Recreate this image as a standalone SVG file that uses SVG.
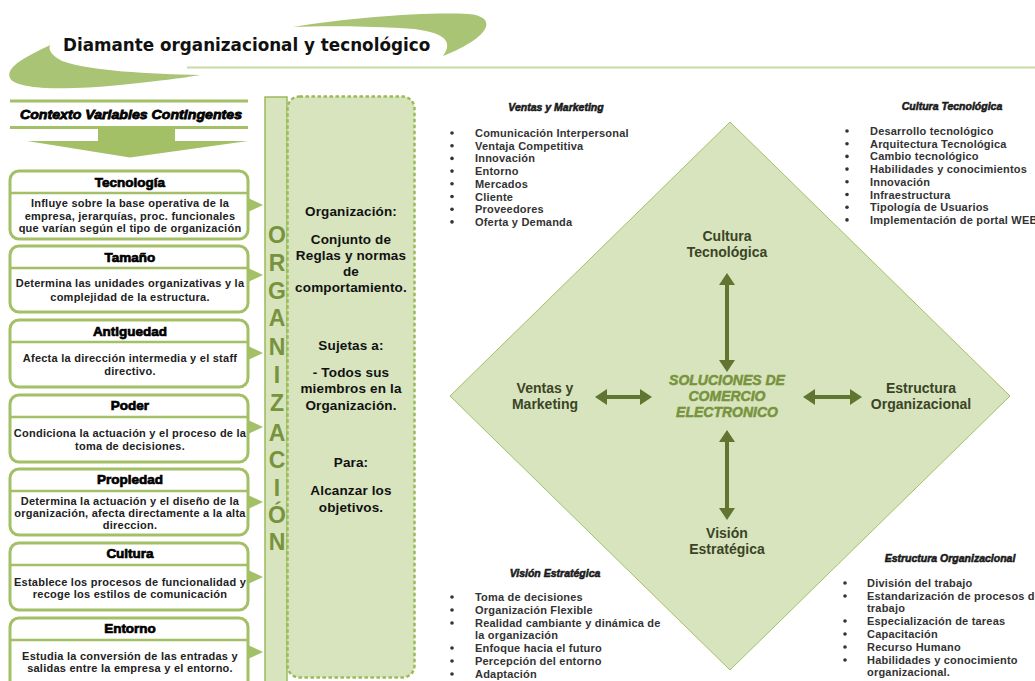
<svg xmlns="http://www.w3.org/2000/svg" width="1035" height="681" viewBox="0 0 1035 681">
<defs>
<style>
.sw{fill:#a8c474}
.box{fill:#ffffff;stroke:#a3c067;stroke-width:3}
.div{stroke:#a3c067;stroke-width:2.5}
.tri{fill:#a3c067}
.bt{font-family:"Liberation Sans",Arial,sans-serif;font-weight:bold;font-size:13.5px;fill:#000;stroke:#000;stroke-width:0.7;text-anchor:middle}
.bb{font-family:"Liberation Sans",Arial,sans-serif;font-weight:bold;font-size:11px;letter-spacing:0.25px;fill:#222;text-anchor:middle}
.org{font-family:"Liberation Sans",Arial,sans-serif;font-weight:bold;font-size:23px;fill:#77933c;text-anchor:middle}
.mid{font-family:"Liberation Sans",Arial,sans-serif;font-weight:bold;font-size:13.5px;letter-spacing:0.15px;fill:#111;text-anchor:middle}
.lh{font-family:"Liberation Sans",Arial,sans-serif;font-weight:bold;font-style:italic;font-size:10.5px;fill:#1a1a1a;stroke:#1a1a1a;stroke-width:0.55;text-anchor:middle}
.li{font-family:"Liberation Sans",Arial,sans-serif;font-weight:bold;font-size:11px;letter-spacing:0.2px;fill:#333}
.dl{font-family:"Liberation Sans",Arial,sans-serif;font-weight:bold;font-size:14px;fill:#3b4426;text-anchor:middle}
.ctr{font-family:"Liberation Sans",Arial,sans-serif;font-weight:bold;font-style:italic;font-size:14px;fill:#77933c;stroke:#77933c;stroke-width:0.5;text-anchor:middle}
.arr{stroke:#5f7530;stroke-width:4;fill:none;marker-start:url(#ah);marker-end:url(#ah)}
</style>
<marker id="ah" viewBox="0 0 12 16" refX="0" refY="8" markerWidth="12" markerHeight="16" markerUnits="userSpaceOnUse" orient="auto-start-reverse">
<path d="M0,0 L12,8 L0,16 Z" fill="#5f7530"/>
</marker>
<g id="bullet"><circle r="1.8" fill="#333"/></g>
</defs>
<rect width="1035" height="681" fill="#ffffff"/>

<g id="header">
<path class="sw" d="M293,27 C350,18 420,12 468,14 C497,16 494,36 443,56 C455,40 442,30 400,28 C360,26 320,26 293,27 Z"/>
<path class="sw" d="M50,45 C30,55 5,66 10,78 C15,89 60,91 120,85 C160,81 190,77 200,75 C150,74 90,71 62,61 C52,56 48,50 50,45 Z"/>
<line x1="187" y1="67.5" x2="1035" y2="67.5" stroke="#cbd9a9" stroke-width="2"/>
<text x="63" y="51" font-family="DejaVu Sans,Verdana,sans-serif" font-weight="bold" font-size="16.8" fill="#111">Diamante organizacional y tecnológico</text>
</g>

<g id="contexto">
<line x1="10" y1="101" x2="248" y2="101" stroke="#a3c067" stroke-width="3"/>
<line x1="10" y1="127.5" x2="248" y2="127.5" stroke="#a3c067" stroke-width="3"/>
<text x="131" y="118.5" font-family="Liberation Sans,Arial,sans-serif" font-weight="bold" font-style="italic" font-size="13.5" fill="#000" stroke="#000" stroke-width="0.8" text-anchor="middle" textLength="222" lengthAdjust="spacingAndGlyphs">Contexto Variables Contingentes</text>
<path class="tri" d="M98,129 L175,129 L175,141 L248,141 L130,157.5 L27,141 L98,141 Z"/>
</g>

<g id="tecnologia">
<rect class="box" x="10" y="171" width="238" height="68" rx="9"/>
<line class="div" x1="10" y1="193" x2="248" y2="193"/>
<text class="bt" x="130" y="187">Tecnología</text>
<text class="bb" x="130" y="207">Influye sobre la base operativa de la</text>
<text class="bb" x="130" y="219.5">empresa, jerarquías, proc. funcionales</text>
<text class="bb" x="130" y="232">que varían según el tipo de organización</text>
<path class="tri" d="M248,198 L263,205 L248,212 Z"/>
</g>
<g id="tamano">
<rect class="box" x="10" y="246" width="238" height="66" rx="9"/>
<line class="div" x1="10" y1="268" x2="248" y2="268"/>
<text class="bt" x="130" y="262">Tamaño</text>
<text class="bb" x="130" y="287">Determina las unidades organizativas y la</text>
<text class="bb" x="130" y="300.5">complejidad de la estructura.</text>
<path class="tri" d="M248,268 L263,275 L248,282 Z"/>
</g>
<g id="antiguedad">
<rect class="box" x="10" y="320" width="238" height="67" rx="9"/>
<line class="div" x1="10" y1="342" x2="248" y2="342"/>
<text class="bt" x="130" y="336">Antiguedad</text>
<text class="bb" x="130" y="362">Afecta la dirección intermedia y el staff</text>
<text class="bb" x="130" y="375">directivo.</text>
<path class="tri" d="M248,346 L263,353 L248,360 Z"/>
</g>
<g id="poder">
<rect class="box" x="10" y="395" width="238" height="67" rx="9"/>
<line class="div" x1="10" y1="417" x2="248" y2="417"/>
<text class="bt" x="130" y="410">Poder</text>
<text class="bb" x="130" y="437">Condiciona la actuación y el proceso de la</text>
<text class="bb" x="130" y="449.5">toma de decisiones.</text>
<path class="tri" d="M248,420 L263,427 L248,434 Z"/>
</g>
<g id="propiedad">
<rect class="box" x="10" y="469" width="238" height="66" rx="9"/>
<line class="div" x1="10" y1="491" x2="248" y2="491"/>
<text class="bt" x="130" y="484">Propiedad</text>
<text class="bb" x="130" y="505">Determina la actuación y el diseño de la</text>
<text class="bb" x="130" y="517">organización, afecta directamente a la alta</text>
<text class="bb" x="130" y="529">direccion.</text>
<path class="tri" d="M248,495 L263,502 L248,509 Z"/>
</g>
<g id="cultura">
<rect class="box" x="10" y="543" width="238" height="67" rx="9"/>
<line class="div" x1="10" y1="565" x2="248" y2="565"/>
<text class="bt" x="130" y="558">Cultura</text>
<text class="bb" x="130" y="585.5">Establece los procesos de funcionalidad y</text>
<text class="bb" x="130" y="597.5">recoge los estilos de comunicación</text>
<path class="tri" d="M248,570 L263,577 L248,584 Z"/>
</g>
<g id="entorno">
<rect class="box" x="10" y="618" width="238" height="75" rx="9"/>
<line class="div" x1="10" y1="640" x2="248" y2="640"/>
<text class="bt" x="130" y="633">Entorno</text>
<text class="bb" x="130" y="660">Estudia la conversión de las entradas y</text>
<text class="bb" x="130" y="672">salidas entre la empresa y el entorno.</text>
<path class="tri" d="M248,645 L263,652 L248,659 Z"/>
</g>

<g id="organizacion-bar">
<rect x="265" y="97" width="22" height="600" fill="#d7e4bd" stroke="#9bbb59" stroke-width="1.5"/>
<text class="org" x="277" y="243">O</text>
<text class="org" x="277" y="271">R</text>
<text class="org" x="277" y="299">G</text>
<text class="org" x="277" y="326">A</text>
<text class="org" x="277" y="355">N</text>
<text class="org" x="277" y="383">I</text>
<text class="org" x="277" y="411">Z</text>
<text class="org" x="277" y="441">A</text>
<text class="org" x="277" y="468">C</text>
<text class="org" x="277" y="496">I</text>
<text class="org" x="277" y="523">Ó</text>
<text class="org" x="277" y="550">N</text>
</g>

<g id="organizacion-def">
<rect x="287.5" y="96.5" width="127" height="581" rx="12" fill="#d7e4bd" stroke="#9bbb59" stroke-width="2.5" stroke-dasharray="3.5 2.5"/>
<text class="mid" x="351" y="216">Organización:</text>
<text class="mid" x="351" y="244">Conjunto de</text>
<text class="mid" x="351" y="260">Reglas y normas</text>
<text class="mid" x="351" y="276">de</text>
<text class="mid" x="351" y="292">comportamiento.</text>
<text class="mid" x="351" y="350">Sujetas a:</text>
<text class="mid" x="351" y="377">- Todos sus</text>
<text class="mid" x="351" y="393">miembros en la</text>
<text class="mid" x="351" y="410">Organización.</text>
<text class="mid" x="351" y="467">Para:</text>
<text class="mid" x="351" y="495">Alcanzar los</text>
<text class="mid" x="351" y="512">objetivos.</text>
</g>

<g id="diamond">
<polygon points="730,122 1010,396 730,670 450,396" fill="#d7e4bd" stroke="#a3c067" stroke-width="1"/>
</g>

<g id="connectors">
<line class="arr" x1="727" y1="285" x2="727" y2="360"/>
<line class="arr" x1="727" y1="442" x2="727" y2="508"/>
<line class="arr" x1="607" y1="397" x2="640" y2="397"/>
<line class="arr" x1="815" y1="397" x2="850" y2="397"/>
</g>

<g id="node-cultura">
<text class="dl" x="727" y="241">Cultura</text>
<text class="dl" x="727" y="257">Tecnológica</text>
</g>
<g id="node-ventas">
<text class="dl" x="545" y="393">Ventas y</text>
<text class="dl" x="545" y="409">Marketing</text>
</g>
<g id="node-estructura">
<text class="dl" x="921" y="393">Estructura</text>
<text class="dl" x="921" y="409">Organizacional</text>
</g>
<g id="node-vision">
<text class="dl" x="727" y="538">Visión</text>
<text class="dl" x="727" y="554">Estratégica</text>
</g>
<g id="node-center">
<text class="ctr" x="727" y="385">SOLUCIONES DE</text>
<text class="ctr" x="727" y="401">COMERCIO</text>
<text class="ctr" x="727" y="417">ELECTRONICO</text>
</g>

<g id="list-ventas">
<text class="lh" x="556" y="111">Ventas y Marketing</text>
<use href="#bullet" x="452" y="133"/><text class="li" x="475" y="137">Comunicación Interpersonal</text>
<use href="#bullet" x="452" y="145.7"/><text class="li" x="475" y="149.7">Ventaja Competitiva</text>
<use href="#bullet" x="452" y="158.4"/><text class="li" x="475" y="162.4">Innovación</text>
<use href="#bullet" x="452" y="171.1"/><text class="li" x="475" y="175.1">Entorno</text>
<use href="#bullet" x="452" y="183.8"/><text class="li" x="475" y="187.8">Mercados</text>
<use href="#bullet" x="452" y="196.5"/><text class="li" x="475" y="200.5">Cliente</text>
<use href="#bullet" x="452" y="209.2"/><text class="li" x="475" y="213.2">Proveedores</text>
<use href="#bullet" x="452" y="221.9"/><text class="li" x="475" y="225.9">Oferta y Demanda</text>
</g>

<g id="list-cultura">
<text class="lh" x="952" y="110">Cultura Tecnológica</text>
<use href="#bullet" x="847" y="131"/><text class="li" x="870" y="135">Desarrollo tecnológico</text>
<use href="#bullet" x="847" y="143.7"/><text class="li" x="870" y="147.7">Arquitectura Tecnológica</text>
<use href="#bullet" x="847" y="156.4"/><text class="li" x="870" y="160.4">Cambio tecnológico</text>
<use href="#bullet" x="847" y="169.1"/><text class="li" x="870" y="173.1">Habilidades y conocimientos</text>
<use href="#bullet" x="847" y="181.8"/><text class="li" x="870" y="185.8">Innovación</text>
<use href="#bullet" x="847" y="194.5"/><text class="li" x="870" y="198.5">Infraestructura</text>
<use href="#bullet" x="847" y="207.2"/><text class="li" x="870" y="211.2">Tipología de Usuarios</text>
<use href="#bullet" x="847" y="219.9"/><text class="li" x="870" y="223.9">Implementación de portal WEB</text>
</g>

<g id="list-vision">
<text class="lh" x="555" y="577">Visión Estratégica</text>
<use href="#bullet" x="452" y="597"/><text class="li" x="475" y="601">Toma de decisiones</text>
<use href="#bullet" x="452" y="610"/><text class="li" x="475" y="614">Organización Flexible</text>
<use href="#bullet" x="452" y="623"/><text class="li" x="475" y="627">Realidad cambiante y dinámica de</text>
<text class="li" x="475" y="639">la organización</text>
<use href="#bullet" x="452" y="648"/><text class="li" x="475" y="652">Enfoque hacia el futuro</text>
<use href="#bullet" x="452" y="661"/><text class="li" x="475" y="665">Percepción del entorno</text>
<use href="#bullet" x="452" y="674"/><text class="li" x="475" y="678">Adaptación</text>
</g>

<g id="list-estructura">
<text class="lh" x="950" y="562">Estructura Organizacional</text>
<use href="#bullet" x="845" y="583"/><text class="li" x="867" y="587">División del trabajo</text>
<use href="#bullet" x="845" y="596"/><text class="li" x="867" y="600">Estandarización de procesos de</text>
<text class="li" x="867" y="612">trabajo</text>
<use href="#bullet" x="845" y="621"/><text class="li" x="867" y="625">Especialización de tareas</text>
<use href="#bullet" x="845" y="634"/><text class="li" x="867" y="638">Capacitación</text>
<use href="#bullet" x="845" y="647"/><text class="li" x="867" y="651">Recurso Humano</text>
<use href="#bullet" x="845" y="660"/><text class="li" x="867" y="664">Habilidades y conocimiento</text>
<text class="li" x="867" y="676">organizacional.</text>
</g>
</svg>
